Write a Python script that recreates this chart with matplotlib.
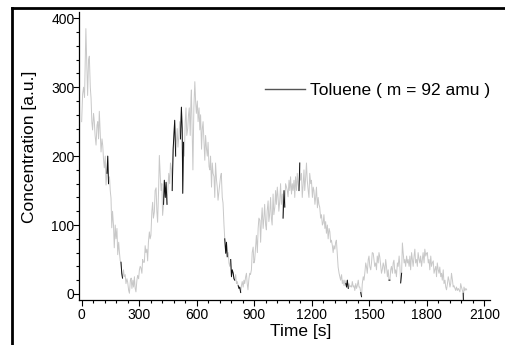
# Toluene concentration vs time (scanned figure recreation)
import numpy as np
import matplotlib.pyplot as plt
from matplotlib.lines import Line2D
from matplotlib.ticker import MultipleLocator

plt.rcParams['font.family'] = ['Liberation Sans', 'DejaVu Sans']

# ------------------------------------------------------
# data: time [s] and concentration [a.u.]
time_s = [
    0, 5, 10, 15, 22, 27, 31, 36, 40, 45, 49, 53, 57, 62, 66, 70, 75, 80, 84, 88,
    92, 97, 101, 106, 110, 114, 118, 123, 127, 132, 136, 140, 145, 149, 153, 157, 161, 166, 170, 175,
    179, 184, 188, 193, 197, 201, 205, 209, 213, 218, 222, 227, 231, 236, 240, 245, 249, 254, 258, 262,
    267, 271, 275, 279, 283, 288, 292, 297, 301, 305, 309, 314, 318, 322, 327, 331, 335, 340, 344, 348,
    353, 357, 361, 366, 370, 374, 379, 383, 388, 392, 396, 401, 405, 410, 414, 418, 422, 427, 431, 436,
    440, 445, 449, 454, 459, 463, 468, 472, 477, 481, 485, 490, 494, 498, 502, 507, 511, 515, 520, 524,
    527, 531, 535, 540, 544, 548, 553, 557, 561, 566, 570, 572, 576, 580, 585, 590, 594, 598, 603, 607,
    612, 616, 620, 625, 629, 633, 638, 642, 646, 651, 655, 659, 664, 668, 672, 677, 681, 685, 690, 694,
    698, 703, 707, 711, 716, 720, 724, 728, 733, 737, 742, 746, 751, 755, 759, 764, 768, 772, 777, 781,
    785, 790, 794, 798, 803, 807, 811, 816, 820, 824, 829, 833, 837, 842, 846, 850, 855, 859, 863, 867,
    872, 876, 880, 885, 889, 894, 898, 902, 907, 911, 916, 920, 924, 929, 933, 937, 941, 946, 950, 954,
    959, 963, 967, 972, 976, 980, 985, 989, 993, 998, 1002, 1007, 1011, 1015, 1020, 1024, 1028, 1033, 1037, 1041,
    1046, 1050, 1055, 1059, 1063, 1068, 1072, 1076, 1081, 1085, 1089, 1094, 1098, 1102, 1107, 1111, 1115, 1120, 1124, 1128,
    1133, 1137, 1141, 1146, 1150, 1155, 1159, 1163, 1168, 1172, 1176, 1181, 1185, 1189, 1194, 1198, 1203, 1207, 1211, 1216,
    1220, 1224, 1229, 1233, 1237, 1241, 1246, 1250, 1255, 1259, 1263, 1268, 1272, 1276, 1281, 1285, 1290, 1294, 1298, 1302,
    1307, 1311, 1315, 1320, 1324, 1328, 1333, 1337, 1342, 1346, 1350, 1355, 1359, 1363, 1368, 1372, 1377, 1381, 1385, 1390,
    1394, 1398, 1403, 1407, 1411, 1416, 1420, 1424, 1429, 1433, 1437, 1442, 1446, 1450, 1455, 1459, 1463, 1468, 1472, 1476,
    1481, 1485, 1489, 1494, 1498, 1502, 1507, 1511, 1515, 1520, 1524, 1528, 1533, 1537, 1541, 1546, 1550, 1554, 1559, 1563,
    1567, 1572, 1576, 1580, 1585, 1589, 1594, 1598, 1602, 1607, 1611, 1615, 1620, 1624, 1628, 1633, 1637, 1641, 1646, 1650,
    1655, 1659, 1663, 1668, 1672, 1676, 1681, 1685, 1689, 1694, 1698, 1702, 1707, 1711, 1715, 1720, 1724, 1728, 1733, 1737,
    1741, 1746, 1750, 1754, 1759, 1763, 1767, 1772, 1776, 1780, 1785, 1789, 1794, 1798, 1802, 1807, 1811, 1815, 1820, 1824,
    1828, 1833, 1837, 1841, 1846, 1850, 1854, 1859, 1863, 1867, 1872, 1876, 1880, 1885, 1889, 1894, 1898, 1902, 1907, 1911,
    1915, 1920, 1924, 1928, 1933, 1937, 1941, 1946, 1950, 1954, 1959, 1963, 1967, 1972, 1976, 1980, 1985, 1989, 1990, 1993,
    1998, 2003, 2007,
]
conc = [
    250, 290, 300, 285, 385, 330, 288, 340, 345, 300, 284, 250, 238, 262, 250, 230, 216, 245, 250, 225,
    265, 230, 206, 225, 215, 195, 183, 200, 158, 175, 200, 160, 170, 150, 139, 96, 120, 100, 67, 100,
    80, 95, 57, 75, 60, 48, 46, 30, 23, 35, 25, 28, 15, 22, 17, 5, 1, 20, 23, 8,
    20, 10, 25, 8, 3, 20, 27, 22, 35, 40, 38, 30, 50, 46, 46, 70, 60, 65, 48, 75,
    90, 80, 85, 120, 133, 110, 119, 150, 154, 120, 104, 150, 201, 170, 150, 160, 114, 130, 165, 140,
    162, 130, 150, 175, 160, 190, 180, 150, 210, 230, 252, 200, 220, 240, 213, 230, 250, 225, 271, 240,
    146, 220, 200, 250, 270, 230, 240, 260, 270, 230, 285, 296, 240, 180, 270, 308, 280, 262, 280, 250,
    270, 238, 260, 210, 240, 250, 220, 194, 230, 210, 200, 220, 185, 180, 200, 155, 190, 175, 170, 140,
    190, 165, 155, 136, 150, 160, 170, 175, 140, 132, 100, 80, 59, 75, 54, 60, 45, 40, 50, 25,
    35, 30, 22, 20, 28, 15, 18, 12, 8, 10, 2, 12, 18, 10, 20, 15, 25, 30, 15, 6,
    22, 30, 28, 35, 60, 68, 45, 49, 70, 85, 60, 95, 110, 107, 75, 107, 125, 95, 110, 130,
    100, 93, 120, 135, 105, 115, 140, 110, 100, 145, 115, 126, 150, 130, 155, 140, 120, 136, 160, 130,
    145, 110, 150, 126, 160, 155, 150, 141, 165, 150, 170, 145, 160, 150, 165, 140, 170, 150, 175, 160,
    150, 190, 165, 175, 140, 160, 180, 150, 170, 190, 165, 150, 140, 175, 160, 165, 140, 155, 150, 130,
    140, 155, 125, 140, 130, 126, 110, 115, 100, 103, 115, 95, 105, 88, 100, 80, 95, 90, 75, 78,
    70, 60, 70, 65, 75, 78, 55, 39, 30, 25, 20, 28, 15, 20, 12, 20, 15, 10, 20, 8,
    15, 10, 12, 10, 18, 10, 12, 5, 15, 8, 12, 20, 10, 10, 2, -4, 15, 25, 20, 30,
    45, 39, 30, 50, 55, 40, 35, 45, 60, 59, 50, 40, 45, 35, 55, 45, 60, 54, 40, 30,
    35, 45, 40, 30, 50, 40, 25, 35, 20, 20, 35, 40, 30, 45, 49, 30, 35, 25, 45, 40,
    55, 40, 16, 30, 74, 60, 45, 50, 40, 55, 45, 50, 40, 55, 35, 60, 50, 40, 55, 65,
    45, 50, 40, 60, 50, 45, 55, 40, 50, 60, 45, 65, 55, 59, 60, 45, 50, 35, 55, 40,
    45, 48, 30, 35, 40, 25, 45, 35, 30, 39, 25, 30, 20, 35, 15, 20, 10, 6, 15, 25,
    20, 10, 15, 30, 20, 10, 12, 8, 5, 10, 5, 8, 6, 3, 15, 10, 5, 1, -8, 10,
    5, 8, 6,
]

# stretches where the scanned trace looks dark (start, end) in seconds
dark_windows = [(130, 140), (205, 216), (425, 445), (470, 490), (515, 532),
                (745, 760), (775, 800), (815, 830), (1050, 1062), (1133, 1140),
                (1375, 1390), (1455, 1462), (1600, 1610), (1660, 1670), (1986, 1992)]

legend_label = 'Toluene ( m = 92 amu )'

# ------------------------------------------------------
t = np.array(time_s, dtype=float)
c = np.array(conc, dtype=float)

fig = plt.figure(figsize=(5.05, 3.45), dpi=100)
ax = fig.add_axes([0.156, 0.130, 0.814, 0.835])

ax.plot(t, c, color='#c8c8c8', lw=0.7, zorder=2)

# dark pieces of the trace
dark = np.zeros(len(t), dtype=bool)
for a, b in dark_windows:
    dark |= (t >= a) & (t <= b)
c_dark = np.where(dark, c, np.nan)
ax.plot(t, c_dark, color='#111111', lw=0.7, zorder=3)

ax.set_xlim(-15, 2128)
ax.set_ylim(-9, 409)
ax.xaxis.set_major_locator(MultipleLocator(300))
ax.xaxis.set_minor_locator(MultipleLocator(60))
ax.yaxis.set_major_locator(MultipleLocator(100))
ax.yaxis.set_minor_locator(MultipleLocator(20))
ax.tick_params(which='major', direction='out', length=4, width=0.8, labelsize=10)
ax.tick_params(which='minor', direction='out', length=2.5, width=0.8)
ax.tick_params(axis='y', which='major', pad=-1)
ax.tick_params(axis='x', which='major', pad=1.5)
ax.spines['top'].set_visible(False)
ax.spines['right'].set_visible(False)
ax.spines['left'].set_linewidth(0.9)
ax.spines['bottom'].set_linewidth(0.9)

ax.set_xlabel('Time [s]', fontsize=12.5)
ax.set_ylabel('Concentration [a.u.]', fontsize=12.5)
ax.xaxis.set_label_coords(0.54, -0.082)
ax.yaxis.set_label_coords(-0.102, 0.531)

handle = Line2D([], [], color='#555555', lw=1)
ax.legend([handle], [legend_label], loc='center left', bbox_to_anchor=(0.453, 0.729),
          frameon=False, fontsize=12.5, handlelength=2.3, handletextpad=0.3,
          borderpad=0, borderaxespad=0)

# page frame around the scanned figure
fig.add_artist(Line2D([12 / 505, 12 / 505], [0, 1 - 8 / 345], color='black', lw=2,
                      transform=fig.transFigure))
fig.add_artist(Line2D([12 / 505, 1], [1 - 8 / 345, 1 - 8 / 345], color='black', lw=2,
                      transform=fig.transFigure))

plt.savefig('out.png', dpi=100)
